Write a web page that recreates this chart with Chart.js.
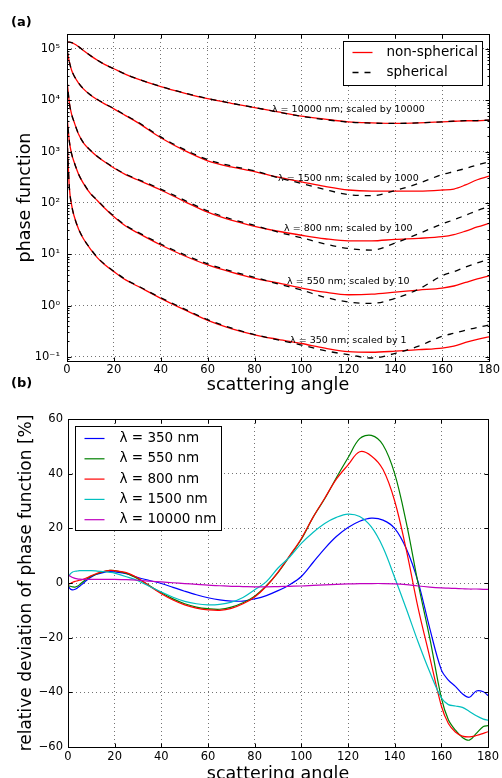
<!DOCTYPE html>
<html>
<head>
<meta charset="utf-8">
<title>phase function</title>
<script src="https://cdn.jsdelivr.net/npm/chart.js@4.4.1/dist/chart.umd.min.js"></script>
<style>
  html, body { margin: 0; padding: 0; background: #fff; overflow: hidden; }
  body { width: 502px; height: 778px; position: relative; }
  canvas { position: absolute; left: 0; }
  #chart-a { top: 0; }
  #chart-b { top: 380px; }
  .tag { position: absolute; left: 11px; font: bold 13px 'DejaVu Sans', sans-serif; line-height: 13px; color: #000; }
</style>
</head>
<body>
<canvas id="chart-a" width="502" height="400"></canvas>
<canvas id="chart-b" width="502" height="410"></canvas>
<div class="tag" style="top: 15px;">(a)</div>
<div class="tag" style="top: 376px;">(b)</div>
<script>
'use strict';

// ***** DATA: panel (a), phase functions *****
const angleA = [0, 1, 2, 3, 5, 7, 10, 13, 16, 20, 25, 30, 40, 50, 60, 70, 80, 90, 100, 110, 120, 130, 140, 150, 160, 165, 170, 175, 180];

const nonSph10000 = [1.35e5, 1.35e5, 1.32e5, 1.26e5, 1.10e5, 9.3e4, 7.4e4, 6.0e4, 5.0e4, 4.1e4, 3.2e4, 2.6e4, 1.84e4, 1.38e4, 1.07e4, 8700, 7200, 5900, 4900, 4270, 3800, 3630, 3550, 3630, 3800, 3890, 3980, 3980, 4070];
const sph10000 = [1.36e5, 1.35e5, 1.32e5, 1.26e5, 1.10e5, 9.3e4, 7.4e4, 6.0e4, 5.0e4, 4.1e4, 3.2e4, 2.6e4, 1.85e4, 1.39e4, 1.08e4, 8750, 7200, 5880, 4850, 4200, 3740, 3580, 3530, 3620, 3800, 3900, 4000, 4020, 4100];

const nonSph1500 = [9.5e4, 5.6e4, 3.8e4, 3.0e4, 2.14e4, 1.66e4, 1.26e4, 1.02e4, 8500, 6800, 5000, 3700, 1860, 1050, 660, 500, 407, 316, 257, 209, 178, 170, 170, 170, 178, 186, 224, 282, 331];
const sph1500 = [9.6e4, 5.6e4, 3.8e4, 3.0e4, 2.15e4, 1.67e4, 1.27e4, 1.03e4, 8600, 6900, 5100, 3800, 1930, 1100, 695, 525, 420, 309, 240, 182, 145, 138, 174, 240, 355, 407, 468, 550, 630];

const nonSph800 = [2.5e4, 8900, 5250, 3800, 2140, 1480, 1050, 794, 631, 479, 355, 282, 178, 107, 66, 46, 35, 28, 23.4, 20, 18.2, 18.2, 19.5, 20.4, 21.9, 24, 28.2, 33.9, 39.8];
const sph800 = [2.5e4, 8900, 5250, 3800, 2150, 1490, 1060, 800, 640, 487, 362, 290, 186, 113, 70, 48.5, 36.5, 26.9, 20.9, 15.8, 12.9, 12.0, 16.6, 25.1, 38.9, 46.8, 57.5, 70.8, 85];

const nonSph550 = [5000, 1580, 890, 631, 355, 240, 151, 110, 79.4, 53.7, 35.5, 26.3, 15.1, 9.33, 6.17, 4.47, 3.39, 2.75, 2.19, 1.82, 1.62, 1.66, 1.82, 2.0, 2.19, 2.40, 2.82, 3.31, 3.80];
const sph550 = [5000, 1580, 890, 631, 358, 243, 153, 112, 81, 55, 36.5, 27.2, 15.8, 9.8, 6.5, 4.7, 3.55, 2.63, 2.0, 1.45, 1.17, 1.10, 1.38, 2.09, 3.80, 4.57, 5.62, 6.76, 7.94];

const nonSph350 = [2000, 200, 89, 56, 30.2, 20, 12.6, 8.5, 6.3, 4.57, 3.16, 2.40, 1.38, 0.83, 0.513, 0.355, 0.269, 0.219, 0.182, 0.148, 0.126, 0.123, 0.129, 0.138, 0.148, 0.162, 0.191, 0.219, 0.245];
const sph350 = [2000, 200, 89, 56, 30.5, 20.2, 12.8, 8.6, 6.4, 4.65, 3.22, 2.45, 1.42, 0.86, 0.53, 0.365, 0.272, 0.214, 0.170, 0.132, 0.110, 0.095, 0.117, 0.162, 0.251, 0.288, 0.331, 0.372, 0.417];

const yTickValuesA = [0.1, 1, 10, 100, 1000, 1e4, 1e5];
const yTickLabelsA = ['10\u207b\u00b9', '10\u2070', '10\u00b9', '10\u00b2', '10\u00b3', '10\u2074', '10\u2075'];

// curve notes: text, and where it sits (angle, value)
const noteLabels = ['\u03bb = 10000 nm; scaled by 10000', '\u03bb = 1500 nm; scaled by 1000', '\u03bb = 800 nm; scaled by 100', '\u03bb = 550 nm; scaled by 10', '\u03bb = 350 nm; scaled by 1'];
const noteAngle = 120;
const noteValues = [6460, 302, 32, 2.91, 0.204];

// ***** DATA: panel (b), relative deviation [%] *****
const angleB = [0, 1, 2, 3, 4, 5, 6, 8, 10, 12, 15, 18, 20, 25, 30, 35, 40, 45, 50, 55, 60, 65, 70, 75, 80, 85, 90, 95, 100, 105, 110, 115, 120, 125, 130, 135, 140, 145, 150, 155, 160, 163, 166, 169, 172, 175, 178, 180];

const dev350 = [-1.0, -2.2, -2.5, -2.3, -1.8, -1.2, -0.5, 1.0, 2.2, 3.1, 3.8, 4.2, 4.1, 3.4, 2.0, 0.9, -0.2, -1.6, -3.0, -4.3, -5.4, -6.2, -6.6, -6.6, -5.8, -4.6, -2.8, -0.6, 2.4, 7.5, 12.6, 17.0, 20.3, 22.6, 23.7, 23.0, 20.0, 12.5, 0.5, -16.5, -31.8, -35.5, -37.8, -40.5, -41.8, -39.5, -39.8, -41.2];
const dev550 = [-1.0, -1.2, -1.4, -1.5, -1.2, -0.6, 0.2, 1.5, 2.5, 3.2, 4.1, 4.6, 4.5, 3.5, 1.5, -1.0, -3.6, -5.8, -7.6, -8.8, -9.4, -9.6, -8.8, -7.2, -4.8, -1.0, 3.8, 9.8, 16.0, 24.0, 30.8, 38.5, 45.8, 52.8, 54.0, 50.5, 40.0, 22.0, 0.0, -20.0, -42.0, -50.0, -53.8, -56.5, -57.5, -55.0, -52.5, -52.2];
const dev800 = [-0.5, -0.2, 0.3, 0.6, 0.8, 1.0, 1.2, 1.9, 2.7, 3.4, 4.2, 4.6, 4.5, 3.8, 1.8, -1.2, -3.9, -6.2, -8.0, -9.2, -9.8, -10.0, -9.3, -7.6, -5.1, -1.2, 4.0, 10.0, 16.3, 24.0, 31.0, 38.0, 43.2, 48.0, 46.5, 41.5, 30.0, 12.0, -9.0, -27.0, -45.0, -51.4, -54.5, -56.0, -56.3, -55.8, -55.0, -54.4];
const dev1500 = [2.0, 3.3, 4.0, 4.3, 4.4, 4.5, 4.5, 4.5, 4.5, 4.4, 4.2, 3.9, 3.6, 2.3, 0.8, -1.3, -3.3, -5.2, -6.7, -7.6, -8.0, -7.8, -7.0, -5.3, -2.5, 0.5, 5.5, 9.5, 14.5, 18.5, 21.8, 24.0, 25.2, 24.3, 20.5, 13.0, 2.0, -9.5, -21.5, -32.5, -42.0, -44.5, -45.0, -45.5, -47.0, -48.6, -49.8, -50.2];
const dev10000 = [3.0, 2.5, 2.0, 1.7, 1.5, 1.4, 1.35, 1.3, 1.3, 1.3, 1.3, 1.3, 1.3, 1.2, 1.0, 0.7, 0.4, 0.1, -0.2, -0.5, -0.8, -1.0, -1.2, -1.3, -1.4, -1.4, -1.3, -1.2, -1.1, -0.9, -0.7, -0.5, -0.35, -0.25, -0.2, -0.2, -0.3, -0.6, -1.1, -1.5, -1.8, -1.9, -2.0, -2.1, -2.2, -2.2, -2.3, -2.3];

const devLabels = ['\u03bb = 350 nm', '\u03bb = 550 nm', '\u03bb = 800 nm', '\u03bb = 1500 nm', '\u03bb = 10000 nm'];
const devColors = ['#0000ff', '#008000', '#ff0000', '#00bfbf', '#bf00bf'];

const xTickValues = [0, 20, 40, 60, 80, 100, 120, 140, 160, 180];
const yTickValuesB = [-60, -40, -20, 0, 20, 40, 60];
const yTickLabelsB = ['\u221260', '\u221240', '\u221220', '0', '20', '40', '60'];

// ***** HELPERS *****
const FONT = "'DejaVu Sans', sans-serif";

function toPoints(xs, ys){
  return xs.map((x, i) => ({x: x, y: ys[i]}));
}

// black frame on all four sides, with inward tick marks like matplotlib
const frameTicks = {
  id: 'frameTicks',
  afterDatasetsDraw(chart, args, opts){
    const ctx = chart.ctx;
    const a = chart.chartArea;
    const xs = chart.scales.x;
    const ys = chart.scales.y;
    const L = Math.round(a.left) + 0.5, R = Math.round(a.right) + 0.5;
    const T = Math.round(a.top) + 0.5, B = Math.round(a.bottom) + 0.5;
    ctx.save();
    ctx.strokeStyle = '#000';
    ctx.lineWidth = 1;
    ctx.beginPath();
    xs.ticks.forEach(t => {
      const px = Math.round(xs.getPixelForValue(t.value)) + 0.5;
      ctx.moveTo(px, B); ctx.lineTo(px, B - 4);
      ctx.moveTo(px, T); ctx.lineTo(px, T + 4);
    });
    ys.ticks.forEach(t => {
      const py = Math.round(ys.getPixelForValue(t.value)) + 0.5;
      ctx.moveTo(L, py); ctx.lineTo(L + 4, py);
      ctx.moveTo(R, py); ctx.lineTo(R - 4, py);
    });
    if (opts.minorLog){
      for (let e = -2; e <= 5; e++){
        for (let m = 2; m <= 9; m++){
          const v = m * Math.pow(10, e);
          if (v < ys.min || v > ys.max) continue;
          const py = Math.round(ys.getPixelForValue(v)) + 0.5;
          ctx.moveTo(L, py); ctx.lineTo(L + 2, py);
          ctx.moveTo(R, py); ctx.lineTo(R - 2, py);
        }
      }
    }
    ctx.stroke();
    ctx.strokeRect(L, T, R - L, B - T);
    ctx.restore();
  }
};

// framed legend inside the plot area
const boxLegend = {
  id: 'boxLegend',
  afterDatasetsDraw(chart, args, opts){
    if (!opts.width) return;
    const ctx = chart.ctx;
    const a = chart.chartArea;
    const items = [];
    chart.data.datasets.forEach(ds => {
      if (!items.find(it => it.label === ds.label)) items.push(ds);
    });
    const x = Math.round(opts.side === 'right' ? a.right - opts.inset - opts.width : a.left + opts.inset) + 0.5;
    const y = Math.round(a.top + opts.inset) + 0.5;
    ctx.save();
    ctx.fillStyle = '#fff';
    ctx.fillRect(x, y, opts.width, opts.height);
    ctx.strokeStyle = '#000';
    ctx.lineWidth = 1;
    ctx.strokeRect(x, y, opts.width, opts.height);
    ctx.font = opts.fontSize + 'px ' + FONT;
    ctx.textBaseline = 'middle';
    ctx.textAlign = 'left';
    items.forEach((ds, i) => {
      const ry = y + opts.rowTop + i * opts.rowGap;
      ctx.beginPath();
      ctx.strokeStyle = ds.borderColor;
      ctx.lineWidth = ds.borderWidth;
      ctx.setLineDash(ds.borderDash || []);
      ctx.moveTo(x + 9, ry);
      ctx.lineTo(x + 29, ry);
      ctx.stroke();
      ctx.setLineDash([]);
      ctx.fillStyle = '#000';
      ctx.fillText(ds.label, x + opts.textX, ry);
    });
    ctx.restore();
  }
};

// small labels next to the curves of panel (a)
const curveNotes = {
  id: 'curveNotes',
  afterDatasetsDraw(chart, args, opts){
    if (!opts.labels) return;
    const ctx = chart.ctx;
    ctx.save();
    ctx.font = '9.5px ' + FONT;
    ctx.fillStyle = '#000';
    ctx.textAlign = 'center';
    ctx.textBaseline = 'middle';
    const px = chart.scales.x.getPixelForValue(opts.angle);
    opts.labels.forEach((txt, i) => {
      ctx.fillText(txt, px, chart.scales.y.getPixelForValue(opts.values[i]));
    });
    ctx.restore();
  }
};

function gridOpts(){
  return { color: 'rgba(0,0,0,0.55)', lineWidth: 1, drawTicks: false };
}

function tickFont(){
  return { family: FONT, size: 11.5 };
}

// ***** PANEL (a) *****
const redSets = [nonSph10000, nonSph1500, nonSph800, nonSph550, nonSph350].map(s => ({
  label: 'non-spherical',
  data: toPoints(angleA, s),
  borderColor: '#ff0000',
  borderWidth: 1.3,
  pointRadius: 0,
  cubicInterpolationMode: 'monotone',
  order: 1
}));
const blackSets = [sph10000, sph1500, sph800, sph550, sph350].map(s => ({
  label: 'spherical',
  data: toPoints(angleA, s),
  borderColor: '#000000',
  borderWidth: 1.3,
  borderDash: [6, 6],
  pointRadius: 0,
  cubicInterpolationMode: 'monotone',
  order: 0
}));

new Chart(document.getElementById('chart-a'), {
  type: 'line',
  data: { datasets: redSets.concat(blackSets) },
  options: {
    responsive: false,
    animation: false,
    devicePixelRatio: 1,
    layout: { padding: { top: 34, right: 12, left: 0, bottom: 0 } },
    plugins: {
      legend: { display: false },
      tooltip: { enabled: false },
      boxLegend: { side: 'right', inset: 7, width: 139, height: 44, rowTop: 11, rowGap: 20, textX: 43, fontSize: 13.5 },
      frameTicks: { minorLog: true },
      curveNotes: { labels: noteLabels, angle: noteAngle, values: noteValues }
    },
    scales: {
      x: {
        type: 'linear', min: 0, max: 180,
        afterBuildTicks(s){ s.ticks = xTickValues.map(v => ({value: v})); },
        afterFit(s){ s.height = 39; },
        ticks: { autoSkip: false, maxRotation: 0, padding: 2, color: '#000', font: tickFont() },
        grid: gridOpts(),
        border: { display: false, dash: [1, 3] },
        title: { display: true, text: 'scattering angle', color: '#000', font: { family: FONT, size: 17.5 }, padding: { top: 0, bottom: 4.5 } }
      },
      y: {
        type: 'logarithmic', min: 0.083, max: 1.95e5,
        afterBuildTicks(s){ s.ticks = yTickValuesA.map(v => ({value: v})); },
        afterFit(s){ s.width = 67; },
        ticks: { autoSkip: false, padding: 7, color: '#000', font: tickFont(), callback: (v, i) => yTickLabelsA[i] },
        grid: gridOpts(),
        border: { display: false, dash: [1, 3] },
        title: { display: true, text: 'phase function', color: '#000', font: { family: FONT, size: 17.5 }, padding: { top: 15, bottom: 0 } }
      }
    }
  },
  plugins: [frameTicks, curveNotes, boxLegend]
});

// ***** PANEL (b) *****
const devSeries = [dev350, dev550, dev800, dev1500, dev10000];
const devSets = devSeries.map((s, i) => ({
  label: devLabels[i],
  data: toPoints(angleB, s),
  borderColor: devColors[i],
  borderWidth: 1.2,
  pointRadius: 0,
  tension: 0.35,
  order: devSeries.length - i
}));

new Chart(document.getElementById('chart-b'), {
  type: 'line',
  data: { datasets: devSets },
  options: {
    responsive: false,
    animation: false,
    devicePixelRatio: 1,
    layout: { padding: { top: 39, right: 12, left: 0, bottom: 0 } },
    plugins: {
      legend: { display: false },
      tooltip: { enabled: false },
      boxLegend: { side: 'left', inset: 7, width: 146, height: 104, rowTop: 12, rowGap: 20.3, textX: 44, fontSize: 13.5 },
      frameTicks: { minorLog: false }
    },
    scales: {
      x: {
        type: 'linear', min: 0, max: 180,
        afterBuildTicks(s){ s.ticks = xTickValues.map(v => ({value: v})); },
        afterFit(s){ s.height = 43; },
        ticks: { autoSkip: false, maxRotation: 0, padding: 3, color: '#000', font: tickFont() },
        grid: gridOpts(),
        border: { display: false, dash: [1, 3] },
        title: { display: true, text: 'scattering angle', color: '#000', font: { family: FONT, size: 17.5 }, padding: { top: 0, bottom: 5 } }
      },
      y: {
        type: 'linear', min: -60, max: 60,
        afterBuildTicks(s){ s.ticks = yTickValuesB.map(v => ({value: v})); },
        afterFit(s){ s.width = 68; },
        ticks: { autoSkip: false, padding: 5, color: '#000', font: tickFont(), callback: (v, i) => yTickLabelsB[i] },
        grid: gridOpts(),
        border: { display: false, dash: [1, 3] },
        title: { display: true, text: 'relative deviation of phase function [%]', color: '#000', font: { family: FONT, size: 17 }, padding: { top: 16, bottom: 0 } }
      }
    }
  },
  plugins: [frameTicks, boxLegend]
});
</script>
</body>
</html>
